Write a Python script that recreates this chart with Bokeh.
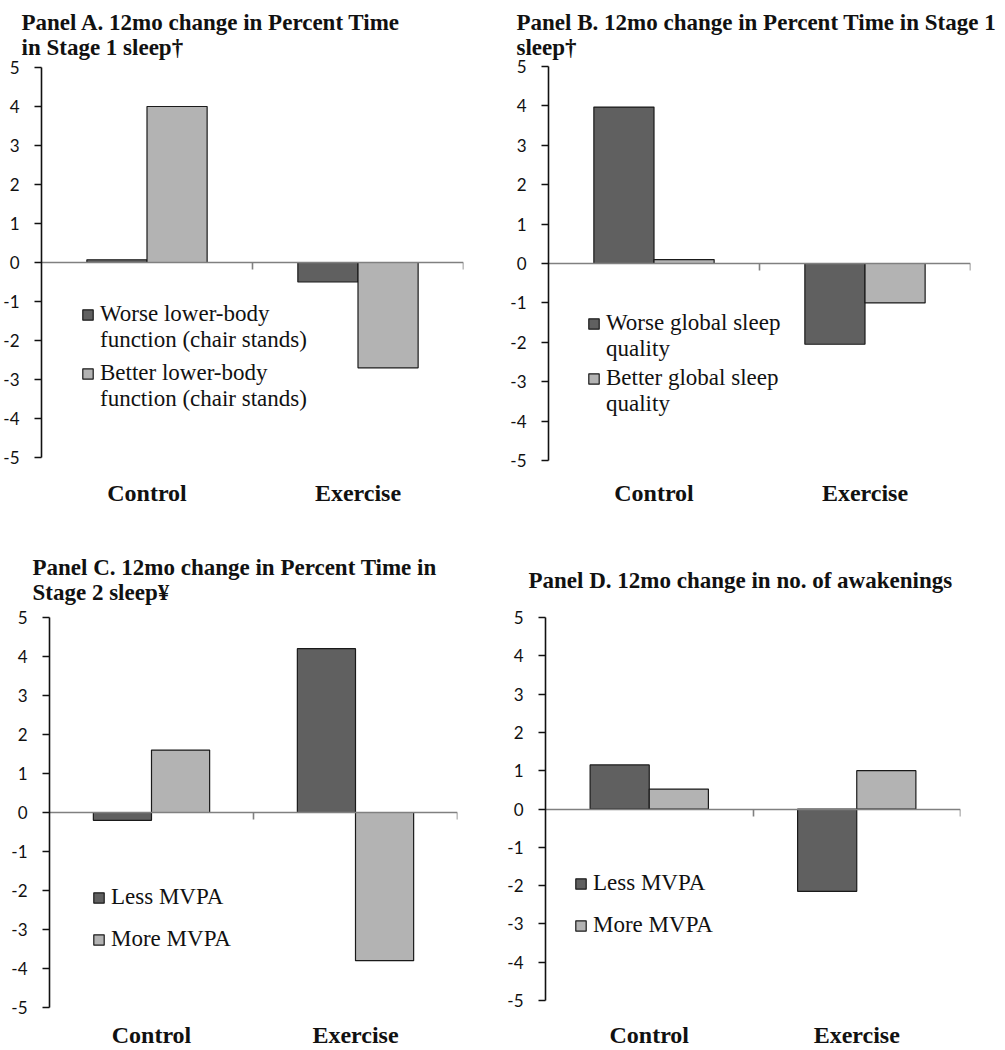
from bokeh.plotting import figure
from bokeh.models import (Range1d, LinearAxis, FixedTicker, Legend, LegendItem,
                          ColumnDataSource, Title)
from bokeh.transform import dodge
from bokeh.layouts import column, row
from bokeh.embed import file_html
from bokeh.resources import INLINE

# ---------------- data ----------------
categories = ["Control", "Exercise"]
y_ticks = [-5, -4, -3, -2, -1, 0, 1, 2, 3, 4, 5]
y_tick_labels = ["-5", "-4", "-3", "-2", "-1", "0", "1", "2", "3", "4", "5"]

a_title = "Panel A. 12mo change in Percent Time\nin Stage 1 sleep\u2020"
a_labels = [["Worse lower-body", "function (chair stands)"],
            ["Better lower-body", "function (chair stands)"]]
a_worse = [0.07, -0.5]
a_better = [4.0, -2.7]

b_title = "Panel B. 12mo change in Percent Time in Stage 1\nsleep\u2020"
b_labels = [["Worse global sleep", "quality"],
            ["Better global sleep", "quality"]]
b_worse = [3.97, -2.05]
b_better = [0.1, -1.0]

c_title = "Panel C. 12mo change in Percent  Time in\nStage 2 sleep\u00a5"
c_labels = [["Less MVPA"], ["More MVPA"]]
c_less = [-0.2, 4.2]
c_more = [1.6, -3.8]

d_title = "Panel D. 12mo change in no. of awakenings"
d_labels = [["Less MVPA"], ["More MVPA"]]
d_less = [1.15, -2.15]
d_more = [0.52, 1.0]

DARK = "#606060"
LIGHT = "#b3b3b3"
SERIF = "Liberation Serif"
SANS = "Lato"


def make_legend(p, lines, renderer, blank, loc):
    items = [LegendItem(label=lines[0], renderers=[renderer])]
    for ln in lines[1:]:
        items.append(LegendItem(label=ln, renderers=[blank]))
    lg = Legend(items=items, location=loc)
    lg.border_line_color = None
    lg.background_fill_alpha = 0
    lg.padding = 0
    lg.margin = 0
    lg.spacing = 0
    lg.glyph_width = 13
    lg.glyph_height = 13
    lg.label_standoff = 6
    lg.label_height = 26
    lg.label_text_font = SERIF
    lg.label_text_font_size = "23px"
    lg.label_text_color = "#111111"
    lg.label_text_baseline = "middle"
    p.add_layout(lg, "center")


def make_panel(title, title_offset, title_standoff, s1, s2, labels, width,
               height, borders, cat_standoff, leg1, leg2):
    left, right, top, bottom = borders
    p = figure(width=width, height=height, output_backend="svg",
               toolbar_location=None, x_axis_type=None, y_axis_type=None,
               x_range=Range1d(0, len(categories)), y_range=Range1d(-5, 5),
               min_border_left=left, min_border_right=right,
               min_border_top=top, min_border_bottom=bottom)
    p.outline_line_color = None
    p.background_fill_color = "white"
    p.border_fill_color = "white"

    t = Title(text=title, text_font=SERIF, text_font_style="bold",
              text_font_size="23px", align="left", vertical_align="bottom",
              offset=title_offset, standoff=title_standoff,
              text_color="#111111")
    p.add_layout(t, "above")

    src = ColumnDataSource(dict(
        x=[i + 0.5 for i in range(len(categories))], s1=s1, s2=s2))
    r1 = p.vbar(x=dodge("x", -0.1425, range=p.x_range), top="s1", bottom=0,
                width=0.285, source=src, fill_color=DARK,
                line_color="#1a1a1a", line_width=1.2)
    r2 = p.vbar(x=dodge("x", 0.1425, range=p.x_range), top="s2", bottom=0,
                width=0.285, source=src, fill_color=LIGHT,
                line_color="#1a1a1a", line_width=1.2)
    blank = p.vbar(x=[], top=[], width=0.1, fill_alpha=0, line_alpha=0)

    # left value axis
    yax = LinearAxis(ticker=FixedTicker(ticks=y_ticks))
    yax.major_label_overrides = {t: l for t, l in zip(y_ticks, y_tick_labels)}
    yax.major_label_text_font = SANS
    yax.major_label_text_font_size = "17px"
    yax.major_label_text_color = "#111111"
    yax.major_label_standoff = 15
    yax.major_tick_in = 0
    yax.major_tick_out = 7
    yax.minor_tick_line_color = None
    yax.axis_line_width = 1.6
    yax.major_tick_line_width = 1.6
    yax.axis_line_color = "#111111"
    yax.major_tick_line_color = "#111111"
    p.add_layout(yax, "left")

    # zero line with category-boundary ticks
    zax = LinearAxis(ticker=FixedTicker(ticks=list(range(1, len(categories) + 1))),
                     fixed_location=0)
    zax.axis_line_color = "#808080"
    zax.axis_line_width = 1.6
    zax.major_tick_line_color = "#808080"
    zax.major_tick_line_width = 1.6
    zax.major_tick_in = 0
    zax.major_tick_out = 7
    zax.minor_tick_line_color = None
    zax.major_label_text_font_size = "0px"
    zax.major_label_standoff = 0
    p.add_layout(zax, "below")

    # category labels
    cticks = [i + 0.5 for i in range(len(categories))]
    cax = LinearAxis(ticker=FixedTicker(ticks=cticks))
    cax.major_label_overrides = {t: c for t, c in zip(cticks, categories)}
    cax.axis_line_color = None
    cax.major_tick_line_color = None
    cax.minor_tick_line_color = None
    cax.major_tick_in = 0
    cax.major_tick_out = 0
    cax.major_label_standoff = cat_standoff
    cax.major_label_text_font = SERIF
    cax.major_label_text_font_style = "bold"
    cax.major_label_text_font_size = "24px"
    cax.major_label_text_color = "#111111"
    p.add_layout(cax, "below")

    make_legend(p, labels[0], r1, blank, leg1)
    make_legend(p, labels[1], r2, blank, leg2)
    return p


pa = make_panel(a_title, -20, 15, a_worse, a_better, a_labels, 500, 540,
                (40, 37, 67, 83), 22, (40, 104), (40, 45))
pb = make_panel(b_title, -32, 14, b_worse, b_better, b_labels, 505, 540,
                (48, 35, 66, 80), 19, (39, 98), (39, 43))
pc = make_panel(c_title, -17, 25, c_less, c_more, c_labels, 500, 510,
                (49, 43, 77, 43), 14, (43, 97), (43, 55))
pd = make_panel(d_title, -17, 50, d_less, d_more, d_labels, 505, 510,
                (45, 45, 76, 49), 21, (29, 104), (29, 62))

layout = column(row(column(pa), column(pb)), row(column(pc), column(pd)))
open("out.html", "w").write(file_html(layout, INLINE))
